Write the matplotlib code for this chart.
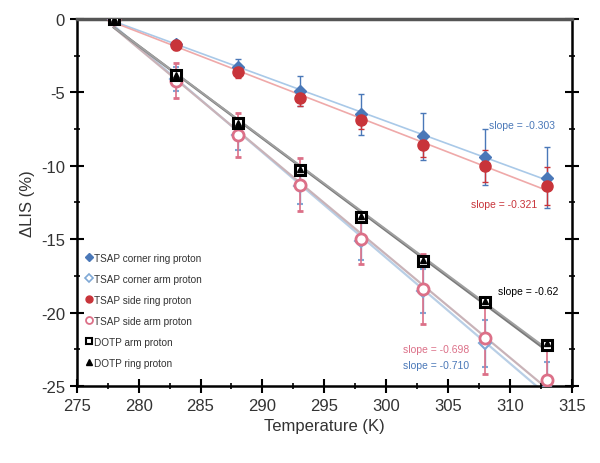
import numpy as np
import matplotlib
matplotlib.use('Agg')
import matplotlib.pyplot as plt
from matplotlib.ticker import MultipleLocator
from matplotlib.lines import Line2D

plt.rcParams['font.family'] = ['Liberation Sans', 'DejaVu Sans']
plt.rcParams['axes.unicode_minus'] = False

# temperatures (K)
temp = [278, 283, 288, 293, 298, 303, 308, 313]

# Delta LIS (%) for each proton
corner_ring = [0, -1.7, -3.3, -4.9, -6.5, -8.0, -9.4, -10.8]
corner_ring_err = [0, 0.3, 0.6, 1.0, 1.4, 1.6, 1.9, 2.1]
corner_arm = [0, -4.1, -7.9, -11.4, -15.1, -18.5, -22.1, -25.2]
corner_arm_err = [0, 0.8, 1.0, 1.2, 1.3, 1.5, 1.6, 1.8]
side_ring = [0, -1.8, -3.6, -5.4, -6.9, -8.6, -10.0, -11.4]
side_ring_err = [0, 0.3, 0.4, 0.5, 0.6, 0.8, 1.1, 1.3]
side_arm = [0, -4.2, -7.9, -11.3, -15.0, -18.4, -21.7, -24.6]
side_arm_err = [0, 1.2, 1.5, 1.8, 1.7, 2.4, 2.5, 2.5]
dotp_arm = [0, -3.8, -7.1, -10.3, -13.5, -16.5, -19.3, -22.2]
dotp_ring = [0, -3.8, -7.1, -10.2, -13.4, -16.4, -19.2, -22.1]

slope_texts = ['slope = -0.303', 'slope = -0.321', 'slope = -0.62',
               'slope = -0.698', 'slope = -0.710']

blue = '#4a78b8'
lblue = '#7fa8d6'
red = '#c8343a'
pink = '#dc7088'

fig = plt.figure(figsize=(6, 4.64), dpi=100)
ax = fig.add_axes([0.128, 0.166, 0.825, 0.791])

t = np.array(temp)


def fit_line(y, color, lw):
    p = np.polyfit(t, y, 1)
    ax.plot(t, np.polyval(p, t), color=color, lw=lw, zorder=1)


# linear fits
fit_line(corner_ring, '#a9c9e8', 1.2)
fit_line(side_ring, '#efa9a9', 1.2)
fit_line(corner_arm, '#b9cfe6', 1.6)
fit_line(side_arm, '#c9b3b8', 1.6)
fit_line(dotp_arm, '#7a7a7a', 1.8)
fit_line(dotp_ring, '#a0a0a0', 1.4)

ax.errorbar(temp, corner_arm, yerr=corner_arm_err, fmt='D', ms=6, mfc='white',
            mec=lblue, mew=1.5, ecolor=lblue, elinewidth=1, capsize=2, zorder=3)
ax.errorbar(temp, side_arm, yerr=side_arm_err, fmt='o', ms=8, mfc='white',
            mec=pink, mew=2, ecolor=pink, elinewidth=1.2, capsize=2, zorder=3)
ax.errorbar(temp, corner_ring, yerr=corner_ring_err, fmt='D', ms=6, color=blue,
            ecolor=blue, elinewidth=1, capsize=2, zorder=4)
ax.errorbar(temp, side_ring, yerr=side_ring_err, fmt='o', ms=8, color=red,
            ecolor=red, elinewidth=1, capsize=2, zorder=4)
ax.plot(temp, dotp_arm, 's', ms=7.5, mfc='white', mec='black', mew=2.2, zorder=5)
ax.plot(temp, dotp_ring, '^', ms=4.5, color='black', zorder=6)

# slope annotations
ax.text(311, -7.2, slope_texts[0], color=blue, fontsize=7.5, ha='center', va='center')
ax.text(309.5, -12.6, slope_texts[1], color=red, fontsize=7.5, ha='center', va='center')
ax.text(311.5, -18.5, slope_texts[2], color='black', fontsize=7.5, ha='center', va='center')
ax.text(304, -22.5, slope_texts[3], color=pink, fontsize=7.5, ha='center', va='center')
ax.text(304, -23.6, slope_texts[4], color=blue, fontsize=7.5, ha='center', va='center')

# legend with marker-only handles
handles = [
    Line2D([], [], ls='', marker='D', ms=4, color=blue),
    Line2D([], [], ls='', marker='D', ms=4, mfc='white', mec=lblue, mew=1.2),
    Line2D([], [], ls='', marker='o', ms=5, color=red),
    Line2D([], [], ls='', marker='o', ms=5, mfc='white', mec=pink, mew=1.3),
    Line2D([], [], ls='', marker='s', ms=5, mfc='white', mec='black', mew=1.5),
    Line2D([], [], ls='', marker='^', ms=5, color='black'),
]
labels = ['TSAP corner ring proton', 'TSAP corner arm proton',
          'TSAP side ring proton', 'TSAP side arm proton',
          'DOTP arm proton', 'DOTP ring proton']
leg = ax.legend(handles, labels, loc='lower left', bbox_to_anchor=(0.0, 0.025),
                frameon=False, fontsize=7.2, handlelength=0.6, handletextpad=0.2,
                labelspacing=1.1)
for txt in leg.get_texts():
    txt.set_color('#333333')

ax.set_xlim(275, 315)
ax.set_ylim(-25, 0)
ax.xaxis.set_major_locator(MultipleLocator(5))
ax.xaxis.set_minor_locator(MultipleLocator(2.5))
ax.yaxis.set_major_locator(MultipleLocator(5))
ax.yaxis.set_minor_locator(MultipleLocator(2.5))
ax.tick_params(which='major', direction='inout', length=10, width=1.5,
               labelsize=12, labelcolor='#333333')
ax.tick_params(which='minor', direction='inout', length=5, width=1.2)
ax.tick_params(axis='y', which='both', right=True)
for side in ['left', 'bottom', 'right']:
    ax.spines[side].set_linewidth(1.8)
ax.spines['top'].set_linewidth(2.5)
ax.spines['top'].set_color('#555555')

ax.set_xlabel('Temperature (K)', fontsize=12, color='#333333')
ax.set_ylabel('\u0394LIS (%)', fontsize=12, color='#333333')

fig.savefig('out.png', dpi=100)
